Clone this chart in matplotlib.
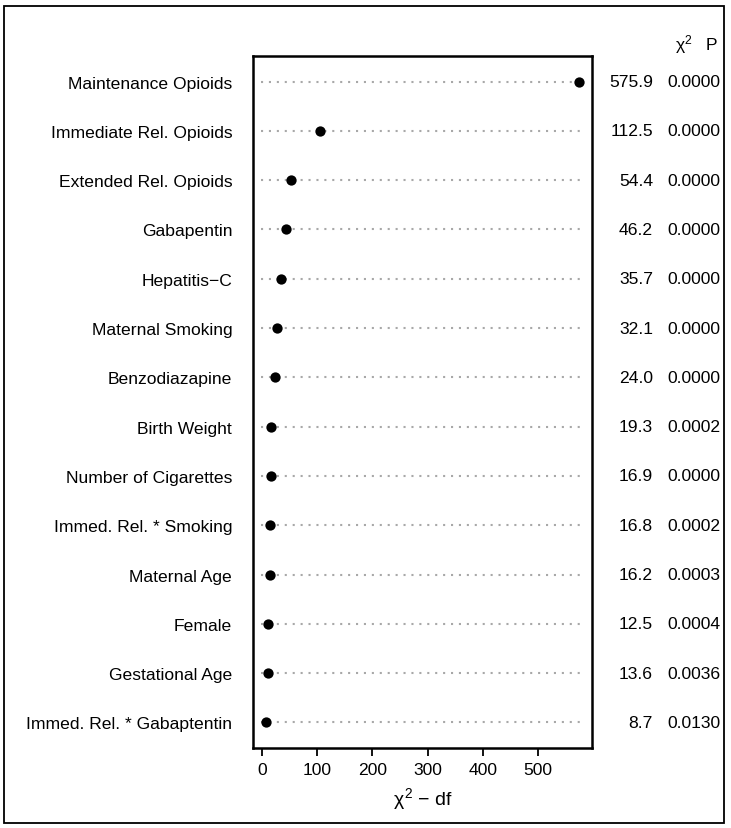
import matplotlib.pyplot as plt
from matplotlib.patches import Rectangle
from matplotlib.transforms import blended_transform_factory

plt.rcParams['font.family'] = ['Liberation Sans', 'DejaVu Sans']
# upright Greek chi as in the original
plt.rcParams['mathtext.fontset'] = 'custom'
plt.rcParams['mathtext.rm'] = 'Liberation Sans'
plt.rcParams['mathtext.it'] = 'Liberation Sans'

# Predictors, top to bottom
labels = ['Maintenance Opioids', 'Immediate Rel. Opioids', 'Extended Rel. Opioids',
          'Gabapentin', 'Hepatitis\u2212C', 'Maternal Smoking', 'Benzodiazapine',
          'Birth Weight', 'Number of Cigarettes', 'Immed. Rel. * Smoking',
          'Maternal Age', 'Female', 'Gestational Age', 'Immed. Rel. * Gabaptentin']
chi2 = [575.9, 112.5, 54.4, 46.2, 35.7, 32.1, 24.0, 19.3, 16.9, 16.8, 16.2, 12.5, 13.6, 8.7]
df = [1, 7, 1, 3, 1, 4, 1, 2, 1, 2, 2, 1, 3, 2]
pvals = ['0.0000', '0.0000', '0.0000', '0.0000', '0.0000', '0.0000', '0.0000',
         '0.0002', '0.0000', '0.0002', '0.0003', '0.0004', '0.0036', '0.0130']

xvals = [c - d for c, d in zip(chi2, df)]
n = len(labels)
ypos = [n - i for i in range(n)]

W, H = 731, 829
fs = 12.6
fig = plt.figure(figsize=(W / 100, H / 100), dpi=100)
ax = fig.add_axes([253 / W, 1 - 749 / H, (592 - 253) / W, (749 - 57) / H])

lo, hi = min(xvals), max(xvals)
pad = (hi - lo) * 0.04
ax.set_xlim(lo - pad, hi + pad)
ax.set_ylim(1 - (n - 1) * 0.04, n + (n - 1) * 0.04)

for y in ypos:
    ax.axhline(y, xmin=0.025, xmax=0.975, color='#a8a8a8', lw=1.5, ls=(0, (1, 2.8)), zorder=1)
ax.scatter(xvals, ypos, s=55, color='black', zorder=3, linewidths=0)

ax.set_yticks(ypos)
ax.set_yticklabels(labels, fontsize=fs)
ax.tick_params(axis='y', length=0, pad=15)
ax.set_xticks([0, 100, 200, 300, 400, 500])
ax.tick_params(axis='x', labelsize=fs, length=6, width=1.3, pad=4)
for s in ax.spines.values():
    s.set_linewidth(1.8)
ax.set_xlabel('$\\chi^2$ \u2212 df', fontsize=14, labelpad=6)

# Right-hand columns: chi-square and P
tr = blended_transform_factory(fig.transFigure, ax.transData)
for y, c, p in zip(ypos, chi2, pvals):
    fig.text(653 / W, y, f'{c:.1f}', transform=tr, fontsize=fs, ha='right', va='center')
    fig.text(720 / W, y, p, transform=tr, fontsize=fs, ha='right', va='center')
fig.text(693 / W, 1 - 45 / H, '$\\chi^2$', fontsize=fs, ha='right', va='center')
fig.text(717 / W, 1 - 46 / H, 'P', fontsize=fs, ha='right', va='center')

# Outer frame
fig.patches.append(Rectangle((4 / W, 1 - 824 / H), 720 / W, 817 / H, transform=fig.transFigure,
                             fill=False, lw=1.3, edgecolor='black'))

fig.savefig('out.png', dpi=100)
